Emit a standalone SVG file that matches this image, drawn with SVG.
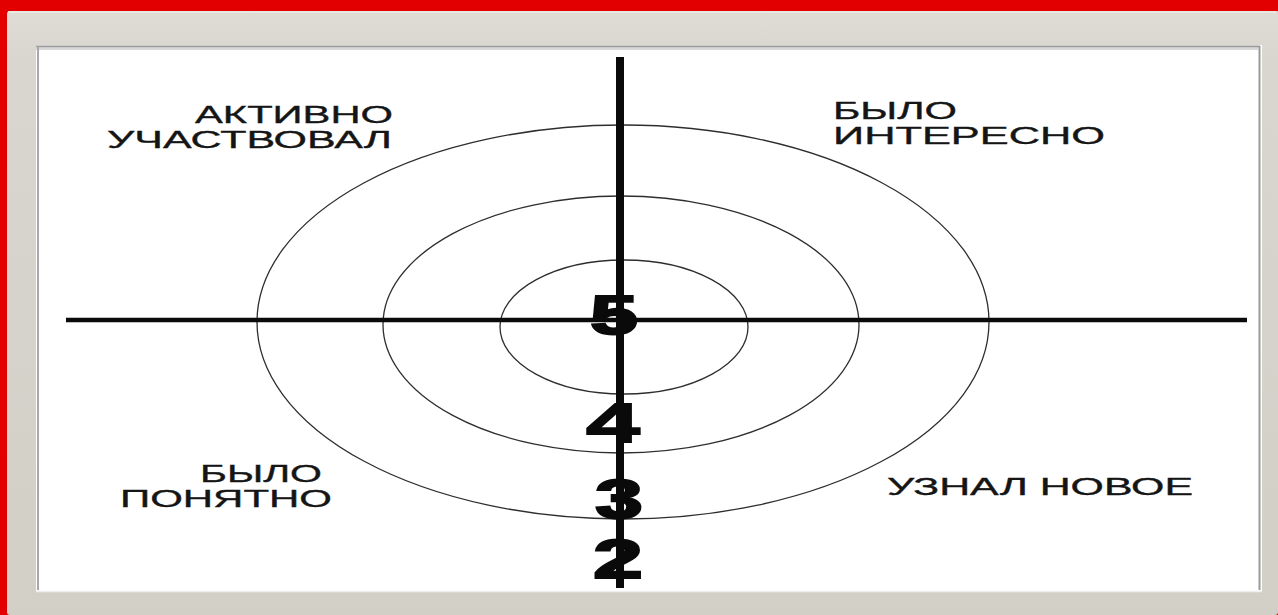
<svg xmlns="http://www.w3.org/2000/svg" width="1278" height="615" viewBox="0 0 1278 615">
<defs>
<style>
.lbl{font-family:"Liberation Sans",Arial,sans-serif;font-size:24px;fill:#151515;stroke:#151515;stroke-width:0.35}
.num{font-family:"Liberation Sans",Arial,sans-serif;font-weight:bold;font-size:56px;fill:#0a0a0a;stroke:#0a0a0a;stroke-width:2;text-anchor:middle}
.ring{fill:none;stroke:#2e2e2e;stroke-width:1.3}
.axis{stroke:#0a0a0a;fill:none}
</style>
<linearGradient id="panel" x1="0" y1="0" x2="0" y2="1">
<stop offset="0" stop-color="#dedcd5"/>
<stop offset="0.08" stop-color="#d8d6cf"/>
<stop offset="1" stop-color="#d2cfc6"/>
</linearGradient>
</defs>
<g id="frame">
<rect x="0" y="0" width="1278" height="615" fill="#e30000"/>
<rect x="7" y="11" width="1271" height="604" rx="3" fill="url(#panel)"/>
<line x1="8" y1="12" x2="1278" y2="12" stroke="#ecebe6" stroke-width="1.5"/>
<rect x="36" y="45" width="1226" height="547" fill="#ffffff"/>
<line x1="36" y1="46.5" x2="1260" y2="46.5" stroke="#9a9a9a" stroke-width="2"/>
<line x1="36" y1="49" x2="1258" y2="49" stroke="#d8d8d8" stroke-width="2"/>
<line x1="38" y1="46" x2="38" y2="590" stroke="#a8a8a8" stroke-width="2"/>
<line x1="1259.5" y1="46" x2="1259.5" y2="590" stroke="#9a9a9a" stroke-width="2"/>
<line x1="36" y1="591.5" x2="1262" y2="591.5" stroke="#eeeeee" stroke-width="1.5"/>
</g>
<g id="rings">
<ellipse class="ring" cx="623" cy="322" rx="366" ry="197"/>
<ellipse class="ring" cx="621" cy="324.5" rx="238" ry="128.5"/>
<ellipse class="ring" cx="624" cy="327" rx="124" ry="67"/>
</g>
<g id="connectors">
<line class="axis" x1="66" y1="320" x2="1247" y2="320" stroke-width="4.5"/>
<line class="axis" x1="620" y1="57" x2="620" y2="588" stroke-width="8"/>
</g>
<g id="scores">
<text class="num" x="614" y="334" textLength="48" lengthAdjust="spacingAndGlyphs">5</text>
<text class="num" x="613" y="442" textLength="53" lengthAdjust="spacingAndGlyphs">4</text>
<text class="num" x="619" y="518" textLength="48" lengthAdjust="spacingAndGlyphs">3</text>
<text class="num" x="618" y="578" textLength="50" lengthAdjust="spacingAndGlyphs">2</text>
</g>
<g id="label-active">
<text class="lbl" x="195" y="123" textLength="198" lengthAdjust="spacingAndGlyphs">АКТИВНО</text>
<text class="lbl" x="107" y="148" textLength="285" lengthAdjust="spacingAndGlyphs">УЧАСТВОВАЛ</text>
</g>
<g id="label-interesting">
<text class="lbl" x="833" y="119" textLength="124" lengthAdjust="spacingAndGlyphs">БЫЛО</text>
<text class="lbl" x="833" y="144" textLength="272" lengthAdjust="spacingAndGlyphs">ИНТЕРЕСНО</text>
</g>
<g id="label-clear">
<text class="lbl" x="200" y="482" textLength="122" lengthAdjust="spacingAndGlyphs">БЫЛО</text>
<text class="lbl" x="120" y="507" textLength="212" lengthAdjust="spacingAndGlyphs">ПОНЯТНО</text>
</g>
<g id="label-new">
<text class="lbl" x="887" y="495" textLength="306" lengthAdjust="spacingAndGlyphs">УЗНАЛ НОВОЕ</text>
</g>
</svg>
